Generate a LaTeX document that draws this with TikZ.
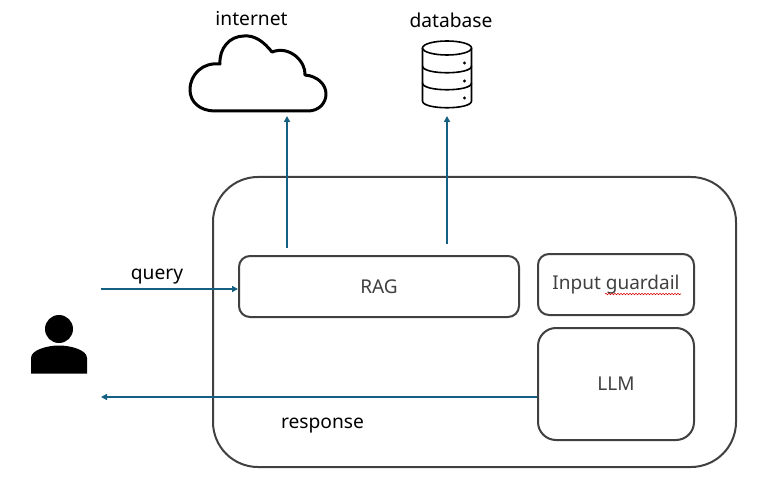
\documentclass[tikz,border=0pt]{standalone}
\usepackage{fontspec}
\setmainfont{Noto Sans}
\usetikzlibrary{arrows.meta,decorations.pathmorphing}
\definecolor{boxgray}{HTML}{404040}
\definecolor{arrowblue}{HTML}{156082}
\tikzset{
  x=1pt,y=-1pt,
  boxnode/.style={draw=boxgray,line width=2pt,text=boxgray,inner sep=0pt,font=\fontsize{19}{22}\selectfont,anchor=north west},
  label/.style={text=black,inner sep=0pt,font=\fontsize{19.2}{22}\selectfont},
  flow/.style={draw=arrowblue,line width=1.5pt,-{Triangle[length=6pt,width=6pt]}},
  iconline/.style={draw=black,line width=2pt,line join=round},
}
\begin{document}
\begin{tikzpicture}
\useasboundingbox (0,0) rectangle (761,492);
\fill[white] (0,0) rectangle (761,492);
\node[boxnode,rounded corners=45pt,minimum width=523pt,minimum height=290pt] (main) at (212,176) {};
\node[boxnode,rounded corners=11pt,minimum width=280pt,minimum height=61pt] (rag) at (238,255) {RAG};
\node[boxnode,rounded corners=11pt,minimum width=156pt,minimum height=61pt] (guard) at (537,253) {Input guardail};
\node[boxnode,rounded corners=18pt,minimum width=156pt,minimum height=112pt] (llm) at (537,327) {\raisebox{-1pt}{LLM}};
\draw[red!85!black,line width=0.6pt,decorate,decoration={snake,amplitude=0.7pt,segment length=3pt}] (605,294) -- (681,294);
% cloud
\draw[iconline,line width=3pt] (215,111) -- (308,111)
  .. controls (319,111) and (326,103) .. (326,94)
  .. controls (326,84) and (317,76) .. (305,75)
  .. controls (306,62) and (290,45) .. (272,52)
  .. controls (264,42) and (255,35) .. (244,36)
  .. controls (230,36) and (219,48) .. (220,64)
  .. controls (203,62) and (190,74) .. (190,90)
  .. controls (190,102) and (200,111) .. (215,111) -- cycle;
% database
\draw[iconline,line width=1.6pt] (447,48) ellipse [x radius=24.5,y radius=7];
\draw[iconline,line width=1.6pt] (422.5,48) -- (422.5,101) .. controls (422.5,110) and (471.5,110) .. (471.5,101) -- (471.5,48);
\draw[iconline,line width=1.6pt] (422.5,66) .. controls (422.5,75) and (471.5,75) .. (471.5,66);
\draw[iconline,line width=1.6pt] (422.5,83) .. controls (422.5,92) and (471.5,92) .. (471.5,83);
\fill (464.5,63) circle (1.7pt) (464.5,81) circle (1.7pt) (464.5,98) circle (1.7pt);
% person
\fill (59,329) circle (14pt);
\fill (31,373.5) -- (31,358) .. controls (31,350) and (47,345.5) .. (59,345.5) .. controls (71,345.5) and (87,350) .. (87,358) -- (87,373.5) -- cycle;
% labels
\node[label] (internet) at (251.5,18.5) {internet};
\node[label] (database) at (451,20.5) {database};
\node[label] (query) at (157,276.5) {query};
\node[label] (response) at (322.5,425.5) {response};
% connectors
\coordinate (ragup1) at (287,248);
\coordinate (cloudin) at (287,116);
\coordinate (ragup2) at (447,244);
\coordinate (dbin) at (447,116);
\coordinate (userout) at (101,289);
\coordinate (userin) at (101,397);
\draw[flow] (ragup1) -- (cloudin);
\draw[flow] (ragup2) -- (dbin);
\draw[flow] (userout) -- (rag.west |- userout);
\draw[flow] (llm.west |- userin) -- (userin);
\end{tikzpicture}
\end{document}
